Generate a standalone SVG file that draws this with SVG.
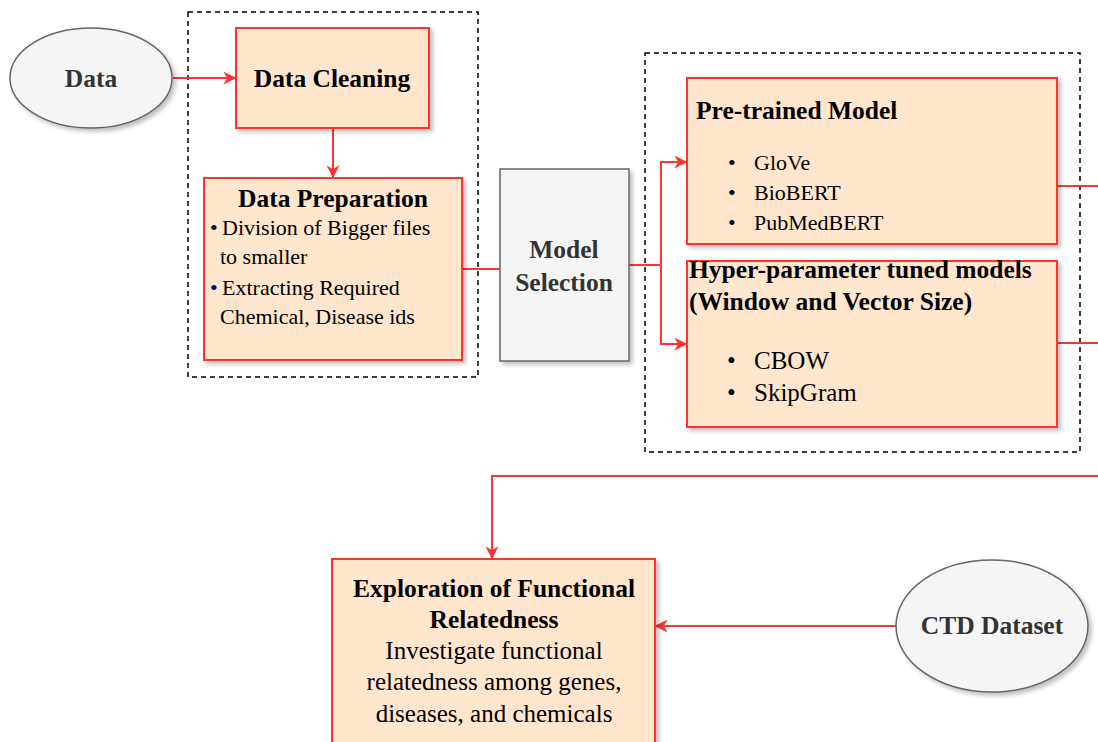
<svg xmlns="http://www.w3.org/2000/svg" width="1098" height="742" viewBox="0 0 1098 742">
<style>
.box{fill:#FFE6CC;stroke:#FF3333;stroke-width:2}
.gray{fill:#F5F5F5;stroke:#666666;stroke-width:1.5}
.dash{fill:none;stroke:#000;stroke-width:1.5;stroke-dasharray:5 4}
.edge{fill:none;stroke:#FF3333;stroke-width:2}
.t{font-family:"Liberation Serif","Times New Roman",serif;fill:#000}
.b{font-weight:bold;font-size:25.5px}
.g{fill:#333333}
.r22{font-size:22px}
.r25{font-size:25px}
</style>
<defs>
<filter id="sh" x="-10%" y="-10%" width="130%" height="130%">
<feDropShadow dx="3" dy="3" stdDeviation="2" flood-color="#000" flood-opacity="0.25"/>
</filter>
<marker id="arr" viewBox="0 0 10 10" refX="9" refY="5" markerWidth="13" markerHeight="13" markerUnits="userSpaceOnUse" orient="auto">
<path d="M0,0 L10,5 L0,10 L3,5 z" fill="#FF3333"/>
</marker>
</defs>
<g id="groups">
<rect id="group-prep" class="dash" x="188" y="12" width="290" height="365"/>
<rect id="group-models" class="dash" x="645" y="53" width="435" height="399"/>
</g>
<g id="connectors">
<path class="edge" d="M173,78 L235,78" marker-end="url(#arr)"/>
<path class="edge" d="M333,128 L333,177" marker-end="url(#arr)"/>
<path class="edge" d="M462,269 L500,269"/>
<path class="edge" d="M629,265 L661,265 L661,162 L686,162" marker-end="url(#arr)"/>
<path class="edge" d="M661,265 L661,344 L686,344" marker-end="url(#arr)"/>
<path class="edge" d="M1057,186 L1098,186"/>
<path class="edge" d="M1057,343 L1098,343"/>
<path class="edge" d="M1098,476 L492,476 L492,558" marker-end="url(#arr)"/>
<path class="edge" d="M896,626 L656,626" marker-end="url(#arr)"/>
</g>
<g id="data">
<ellipse class="gray" cx="91" cy="78" rx="81" ry="50" filter="url(#sh)"/>
<text class="t b g" x="91" y="87" text-anchor="middle">Data</text>
</g>
<g id="data-cleaning">
<rect class="box" x="236" y="28" width="193" height="100" filter="url(#sh)"/>
<text class="t b" x="332" y="87" text-anchor="middle">Data Cleaning</text>
</g>
<g id="data-preparation">
<rect class="box" x="204" y="178" width="258" height="182" filter="url(#sh)"/>
<text class="t b" x="333" y="207" text-anchor="middle">Data Preparation</text>
<text class="t r22" x="210" y="235">•</text>
<text class="t r22" x="222" y="235">Division of Bigger files</text>
<text class="t r22" x="220" y="264">to smaller</text>
<text class="t r22" x="210" y="295" style="fill:#000080">•</text>
<text class="t r22" x="222" y="295">Extracting Required</text>
<text class="t r22" x="220" y="324">Chemical, Disease ids</text>
</g>
<g id="model-selection">
<rect class="gray" x="500" y="169" width="129" height="192" filter="url(#sh)"/>
<text class="t b g" x="564" y="258" text-anchor="middle">Model</text>
<text class="t b g" x="564" y="291" text-anchor="middle">Selection</text>
</g>
<g id="pretrained-model">
<rect class="box" x="687" y="78" width="370" height="166" filter="url(#sh)"/>
<text class="t b" x="696" y="119">Pre-trained Model</text>
<text class="t r22" x="728" y="170">•</text>
<text class="t r22" x="754" y="170">GloVe</text>
<text class="t r22" x="728" y="200">•</text>
<text class="t r22" x="754" y="200">BioBERT</text>
<text class="t r22" x="728" y="230">•</text>
<text class="t r22" x="754" y="230">PubMedBERT</text>
</g>
<g id="hyperparameter-models">
<rect class="box" x="687" y="261" width="370" height="166" filter="url(#sh)"/>
<text class="t b" x="689" y="278">Hyper-parameter tuned models</text>
<text class="t b" x="689" y="310">(Window and Vector Size)</text>
<text class="t r25" x="727" y="369">•</text>
<text class="t r25" x="754" y="369">CBOW</text>
<text class="t r25" x="727" y="401">•</text>
<text class="t r25" x="754" y="401">SkipGram</text>
</g>
<g id="exploration">
<rect class="box" x="332" y="559" width="323" height="200" filter="url(#sh)"/>
<text class="t b" x="494" y="597" text-anchor="middle">Exploration of Functional</text>
<text class="t b" x="494" y="628" text-anchor="middle">Relatedness</text>
<text class="t r25" x="494" y="659" text-anchor="middle">Investigate functional</text>
<text class="t r25" x="494" y="690" text-anchor="middle">relatedness among genes,</text>
<text class="t r25" x="494" y="722" text-anchor="middle">diseases, and chemicals</text>
</g>
<g id="ctd-dataset">
<ellipse class="gray" cx="992" cy="626" rx="96" ry="66" filter="url(#sh)"/>
<text class="t b g" x="992" y="634" text-anchor="middle">CTD Dataset</text>
</g>
</svg>
